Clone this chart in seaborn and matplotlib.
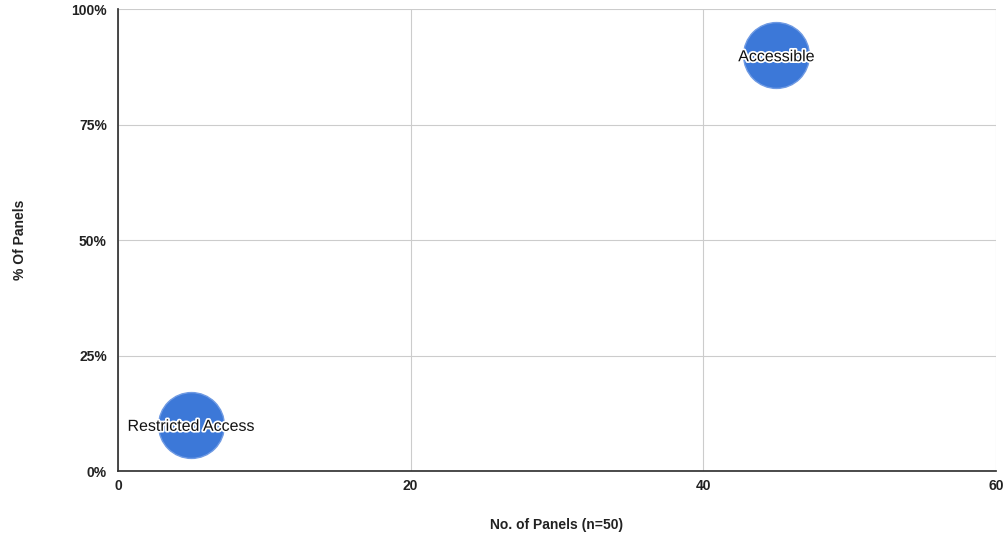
import matplotlib
matplotlib.use("Agg")
import matplotlib.pyplot as plt
import matplotlib.patheffects as pe
from matplotlib.ticker import PercentFormatter
import seaborn as sns
import pandas as pd

labels = ["Restricted Access", "Accessible"]
panels = [5, 45]
pct = [10, 90]

df = pd.DataFrame({"label": labels, "panels": panels, "pct": pct})

sns.set_theme(style="white")
plt.rcParams['font.family'] = ['Liberation Sans', 'DejaVu Sans']

fig = plt.figure(figsize=(10.04, 5.33), dpi=100)
ax = fig.add_axes([0.1175, 0.1163, 0.8745, 0.8667])

sns.scatterplot(data=df, x="panels", y="pct", s=2250, color="#3c78d8",
                edgecolor="#6f9ae3", linewidth=1, ax=ax, legend=False, zorder=3)

for _, r in df.iterrows():
    ax.text(r["panels"], r["pct"], r["label"], ha="center", va="center_baseline",
            fontsize=11.5, color="#111111", zorder=4,
            path_effects=[pe.withStroke(linewidth=2.5, foreground="white")])

ax.set_xlim(0, 60)
ax.set_ylim(0, 100)
ax.set_xticks([0, 20, 40, 60])
ax.set_yticks([0, 25, 50, 75, 100])
ax.yaxis.set_major_formatter(PercentFormatter(decimals=0))
ax.grid(True, color="#cccccc", linewidth=0.8)
ax.set_axisbelow(True)
for s in ["top", "right"]:
    ax.spines[s].set_visible(False)
ax.spines["left"].set_color("#333333")
ax.spines["bottom"].set_color("#333333")
ax.tick_params(axis="x", length=0, labelsize=10, colors="#222222", pad=6)
ax.tick_params(axis="y", length=0, labelsize=10, colors="#222222", pad=8)
for t in ax.get_xticklabels() + ax.get_yticklabels():
    t.set_fontweight("bold")
ax.set_xlabel("No. of Panels (n=50)", fontsize=10, fontweight="bold", color="#222222", labelpad=18)
ax.set_ylabel("% Of Panels", fontsize=10, fontweight="bold", color="#222222", labelpad=32)

fig.savefig("out.png", dpi=100)
